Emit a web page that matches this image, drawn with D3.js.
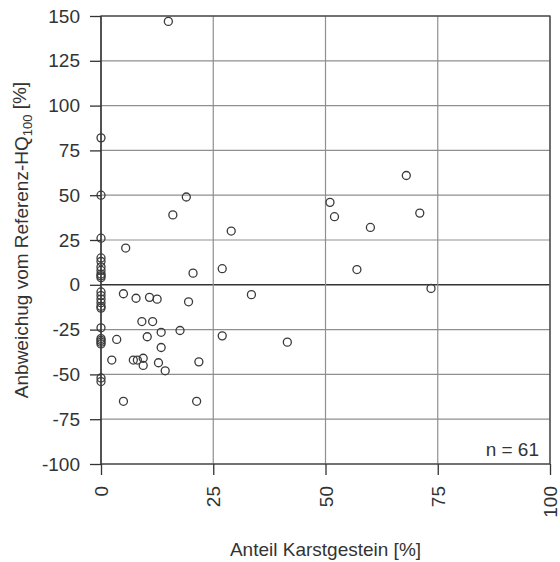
<!DOCTYPE html>
<html>
<head>
<meta charset="utf-8">
<script src="https://cdn.jsdelivr.net/npm/d3@7"></script>
<style>
    body { margin: 0; background: #fff; }
    text { font-family: "Liberation Sans", Arial, sans-serif; fill: #333; }
</style>
</head>
<body>
<div id="chart"></div>
<script>
// Anteil Karstgestein [%] (x) and Abweichung vom Referenz-HQ100 [%] (y)
const karst = [
    0, 0, 0, 0, 0, 0, 0, 0, 0, 0, 0, 0, 0, 0, 0, 0, 0, 0, 0, 0, 0, 0, 0,
    15, 5.5, 16, 19, 29, 20.5, 27, 51, 52, 57, 60, 68, 71, 73.5,
    33.5, 41.5, 27, 21.8, 21.3, 5, 19.5, 17.6,
    5, 7.8, 10.8, 12.5, 9.1, 11.5, 13.4, 3.5, 10.3, 13.4,
    2.4, 7.2, 8.1, 9.4, 9.4, 12.8, 14.3
];
const abweichung = [
    82, 50, 26, 15, 13, 10, 8, 6, 5, 4, -4, -6, -8, -10, -12, -13, -24, -30, -31, -32, -33, -52, -54,
    147, 20.5, 39, 49, 30, 6.5, 9, 46, 38, 8.5, 32, 61, 40, -2,
    -5.5, -32, -28.5, -43, -65, -65, -9.5, -25.5,
    -5, -7.5, -7, -8, -20.5, -20.5, -26.5, -30.5, -29, -35,
    -42, -42, -42, -41, -45, -43.5, -48
];
const xTicks = [0, 25, 50, 75, 100];
const yTicks = [-100, -75, -50, -25, 0, 25, 50, 75, 100, 125, 150];

const svgWidth = 560;
const svgHeight = 562;
const margin = { top: 16, right: 10, bottom: 98, left: 101 };
const width = 550 - margin.left;
const height = 464 - margin.top;

const svg = d3.select("#chart")
    .append("svg")
    .attr("width", svgWidth)
    .attr("height", svgHeight);

const g = svg.append("g")
    .attr("transform", `translate(${margin.left}, ${margin.top})`);

const x = d3.scaleLinear().domain([0, 100]).range([0, width]);
const y = d3.scaleLinear().domain([-100, 150]).range([height, 0]);

// grid
g.append("g")
    .selectAll("line")
    .data(yTicks)
    .enter()
    .append("line")
    .attr("x1", 0).attr("x2", width)
    .attr("y1", d => y(d)).attr("y2", d => y(d))
    .attr("stroke", d => d === 0 ? "#333" : "#8f8f8f")
    .attr("stroke-width", d => d === 0 ? 1.4 : 1.2);

g.append("g")
    .selectAll("line")
    .data(xTicks)
    .enter()
    .append("line")
    .attr("y1", 0).attr("y2", height)
    .attr("x1", d => x(d)).attr("x2", d => x(d))
    .attr("stroke", d => d === 0 ? "#333" : "#8f8f8f")
    .attr("stroke-width", d => d === 0 ? 1.4 : 1.2);

// frame
g.append("rect")
    .attr("width", width)
    .attr("height", height)
    .attr("fill", "none")
    .attr("stroke", "#444")
    .attr("stroke-width", 1.3);

// axes (plain hyphen for negatives, like the original)
const yAxis = g.append("g")
    .call(d3.axisLeft(y).tickValues(yTicks).tickFormat(d => String(d)).tickSize(11).tickPadding(10));
yAxis.select(".domain").remove();
yAxis.selectAll("line").attr("stroke", "#333").attr("stroke-width", 1.3);
yAxis.selectAll("text")
    .style("font-size", "19px")
    .style("font-family", "Liberation Sans, Arial, sans-serif")
    .attr("fill", "#333");

const xAxis = g.append("g")
    .attr("transform", `translate(0, ${height})`)
    .call(d3.axisBottom(x).tickValues(xTicks).tickFormat(d => String(d)).tickSize(11));
xAxis.select(".domain").remove();
xAxis.selectAll("line").attr("stroke", "#333").attr("stroke-width", 1.3);
xAxis.selectAll("text")
    .style("font-size", "19px")
    .style("font-family", "Liberation Sans, Arial, sans-serif")
    .attr("fill", "#333")
    .attr("text-anchor", "end")
    .attr("x", 0)
    .attr("y", 0)
    .attr("dy", "0.35em")
    .attr("transform", "translate(0, 22) rotate(-90)");

// points
g.append("g")
    .selectAll("circle")
    .data(karst.map((d, i) => [d, abweichung[i]]))
    .enter()
    .append("circle")
    .attr("cx", d => x(d[0]))
    .attr("cy", d => y(d[1]))
    .attr("r", 4)
    .attr("fill", "none")
    .attr("stroke", "#3a3a3a")
    .attr("stroke-width", 1.3);

// n label
g.append("text")
    .attr("x", width - 11)
    .attr("y", height - 8)
    .attr("text-anchor", "end")
    .style("font-size", "19px")
    .text("n = 61");

// axis titles
svg.append("text")
    .attr("x", margin.left + width / 2)
    .attr("y", 556)
    .attr("text-anchor", "middle")
    .style("font-size", "19px")
    .text("Anteil Karstgestein [%]");

const yTitle = svg.append("text")
    .attr("transform", `translate(28, ${margin.top + height / 2}) rotate(-90)`)
    .attr("text-anchor", "middle")
    .style("font-size", "19px");
yTitle.append("tspan").text("Anbweichug vom Referenz-HQ");
yTitle.append("tspan").attr("dy", "0.3em").style("font-size", "13px").text("100");
yTitle.append("tspan").attr("dy", "-0.3em").text(" [%]");
</script>
</body>
</html>
